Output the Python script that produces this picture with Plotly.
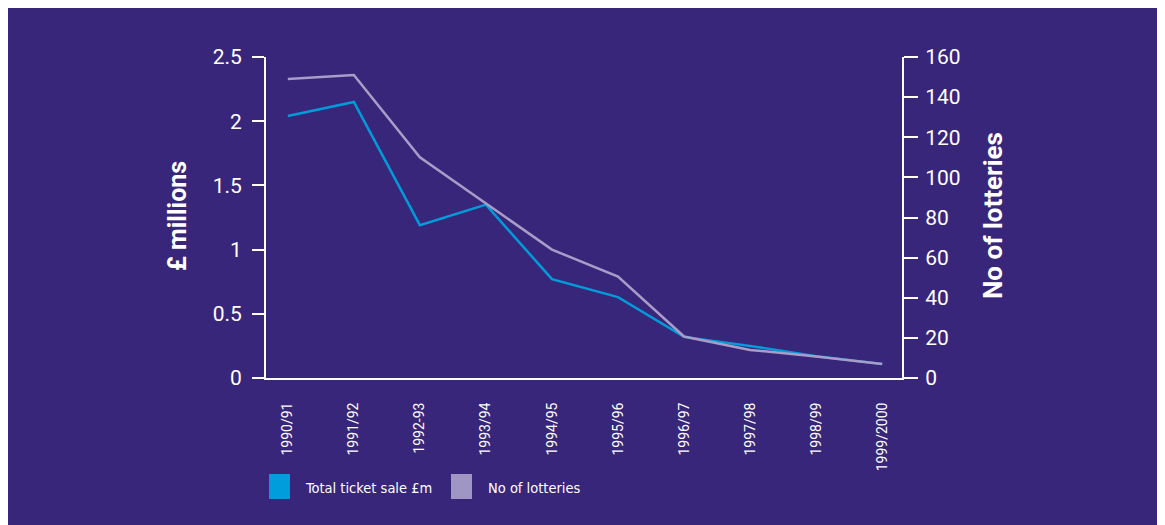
import plotly.graph_objects as go

years = ["1990/91", "1991/92", "1992-93", "1993/94", "1994/95", "1995/96",
         "1996/97", "1997/98", "1998/99", "1999/2000"]
ticket_sales = [2.04, 2.15, 1.19, 1.35, 0.77, 0.63, 0.32, 0.25, 0.17, 0.11]
no_lotteries = [149, 151, 110, 87, 64, 50.5, 20.7, 14, 10.7, 7]
left_ticks = [0, 0.5, 1, 1.5, 2, 2.5]
left_tick_text = ["0", "0.5", "1", "1.5", "2", "2.5"]
right_ticks = [0, 20, 40, 60, 80, 100, 120, 140, 160]

BG = "#38267a"
BLUE = "#009bd9"
GREY = "#a89cc8"
FONT = "Roboto, Arial, sans-serif"
NARROW = "DejaVu Sans Condensed, Liberation Sans Narrow, Roboto, sans-serif"

OFF = 8  # page body margin
W, H = 1165 - OFF, 525 - OFF
L = 266 - OFF
T = 57 - OFF
R = W - (902 - OFF)
B = H - (378 - OFF)
pw, ph = W - L - R, H - T - B

def px_x(x):
    return (x - OFF - L) / pw

def px_y(y):
    return (H - B - (y - OFF)) / ph

fig = go.Figure()
fig.add_trace(go.Scatter(x=list(range(len(years))), y=no_lotteries, mode="lines",
                         line=dict(color=GREY, width=2.5), yaxis="y2",
                         name="No of lotteries", showlegend=False))
fig.add_trace(go.Scatter(x=list(range(len(years))), y=ticket_sales, mode="lines",
                         line=dict(color=BLUE, width=2.5),
                         name="Total ticket sale £m", showlegend=False))

fig.update_layout(
    width=W, height=H,
    margin=dict(l=L, r=R, t=T, b=B),
    paper_bgcolor=BG,
    plot_bgcolor=BG,
    font=dict(family=FONT, color="white"),
    showlegend=False,
    xaxis=dict(range=[-0.33, 9.3], tickmode="array",
               tickvals=list(range(len(years))), ticktext=years,
               tickangle=-90, tickfont=dict(size=14, color="white"),
               showline=True, linecolor="white", linewidth=2,
               showgrid=False, zeroline=False, ticks="",
               ticklabelstandoff=17),
    yaxis=dict(range=[0, 2.5], tickvals=left_ticks, ticktext=left_tick_text,
               tickfont=dict(size=21, color="white"),
               showline=True, linecolor="white", linewidth=2,
               ticks="outside", ticklen=12, tickwidth=2, tickcolor="white",
               showgrid=False, zeroline=False, ticklabelstandoff=6),
    yaxis2=dict(range=[0, 160], tickvals=right_ticks, overlaying="y", side="right",
                tickfont=dict(size=21, color="white"),
                showline=True, linecolor="white", linewidth=2,
                ticks="outside", ticklen=14, tickwidth=2, tickcolor="white",
                showgrid=False, zeroline=False, ticklabelstandoff=3),
)

# axis titles
fig.add_annotation(text="<b>£ millions</b>", xref="paper", yref="paper",
                   x=px_x(177), y=px_y(216), textangle=-90, showarrow=False,
                   xanchor="center", yanchor="middle",
                   font=dict(size=25, color="white", family=FONT))
fig.add_annotation(text="<b>No of lotteries</b>", xref="paper", yref="paper",
                   x=px_x(993), y=px_y(216), textangle=-90, showarrow=False,
                   xanchor="center", yanchor="middle",
                   font=dict(size=26, color="white", family=FONT))

# legend
legend_items = [("Total ticket sale £m", "#009ddd", 269, 303),
                ("No of lotteries", "#a096c4", 451, 486)]
for label, col, sx, tx in legend_items:
    fig.add_shape(type="rect", xref="paper", yref="paper",
                  x0=px_x(sx), x1=px_x(sx + 21), y0=px_y(499), y1=px_y(474),
                  fillcolor=col, line=dict(width=0))
    fig.add_annotation(text=label, xref="paper", yref="paper",
                       x=px_x(tx), y=px_y(488), showarrow=False,
                       xanchor="left", yanchor="middle",
                       font=dict(size=14.5, color="white", family=NARROW))

fig.write_html("out.html")
